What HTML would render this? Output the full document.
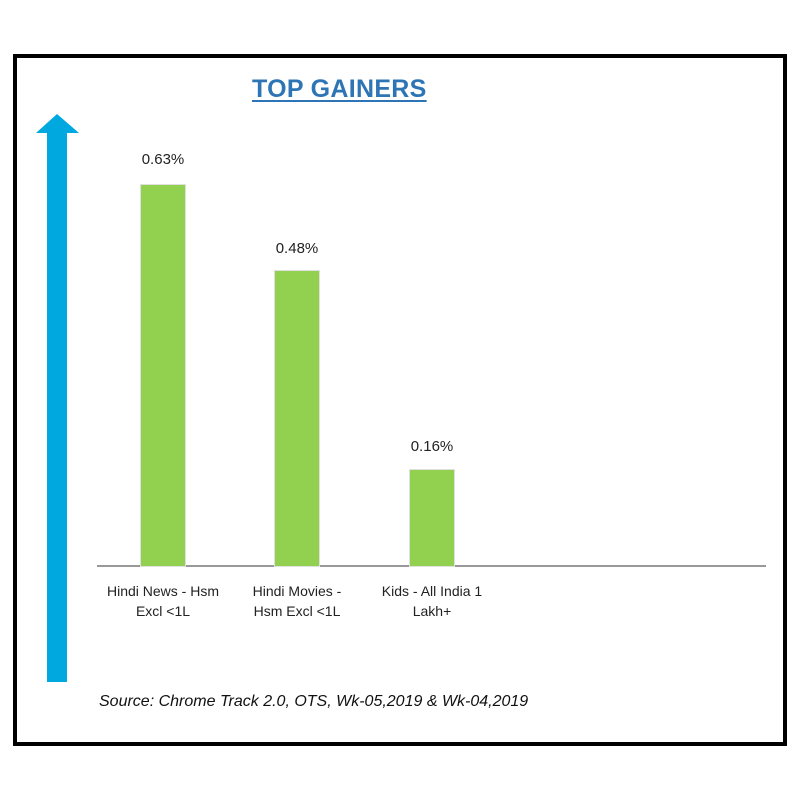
<!DOCTYPE html>
<html><head><style>
body{margin:0;width:800px;height:800px;background:#fff;position:relative;font-family:"Liberation Sans",sans-serif;overflow:hidden}
.box{position:absolute;left:13px;top:54px;width:766px;height:684px;border:4px solid #000}
.a{position:absolute}
.bar{position:absolute;background:#92d050;width:44px;box-shadow:0 0 0 1px #e0e0e0}
.v{position:absolute;font-size:15px;color:#222;width:100px;text-align:center}
.l{position:absolute;font-size:14px;color:#222;width:130px;text-align:center;line-height:20px}
</style></head><body>
<div class="box"></div>
<div class="a" style="left:252px;top:75px;font-size:25px;font-weight:bold;color:#2e75b6;text-decoration:underline;text-underline-offset:3px;letter-spacing:0.3px">TOP GAINERS</div>
<svg class="a" style="left:0;top:0" width="800" height="800">
<polygon points="57,114 79,133 67,133 67,682 47,682 47,133 36,133" fill="#00a8e0"/>
<line x1="97" y1="566" x2="766" y2="566" stroke="#999" stroke-width="2"/>
</svg>
<div class="bar" style="left:141px;top:185px;height:381px"></div>
<div class="bar" style="left:275px;top:271px;height:295px"></div>
<div class="bar" style="left:410px;top:470px;height:96px"></div>
<div class="v" style="left:113px;top:151px">0.63%</div>
<div class="v" style="left:247px;top:240px">0.48%</div>
<div class="v" style="left:382px;top:438px">0.16%</div>
<div class="l" style="left:98px;top:581px">Hindi News - Hsm<br>Excl &lt;1L</div>
<div class="l" style="left:232px;top:581px">Hindi Movies -<br>Hsm Excl &lt;1L</div>
<div class="l" style="left:367px;top:581px">Kids - All India 1<br>Lakh+</div>
<div class="a" style="left:99px;top:693px;font-size:16px;font-style:italic;color:#111">Source: Chrome Track 2.0, OTS, Wk-05,2019 &amp; Wk-04,2019</div>
</body></html>
